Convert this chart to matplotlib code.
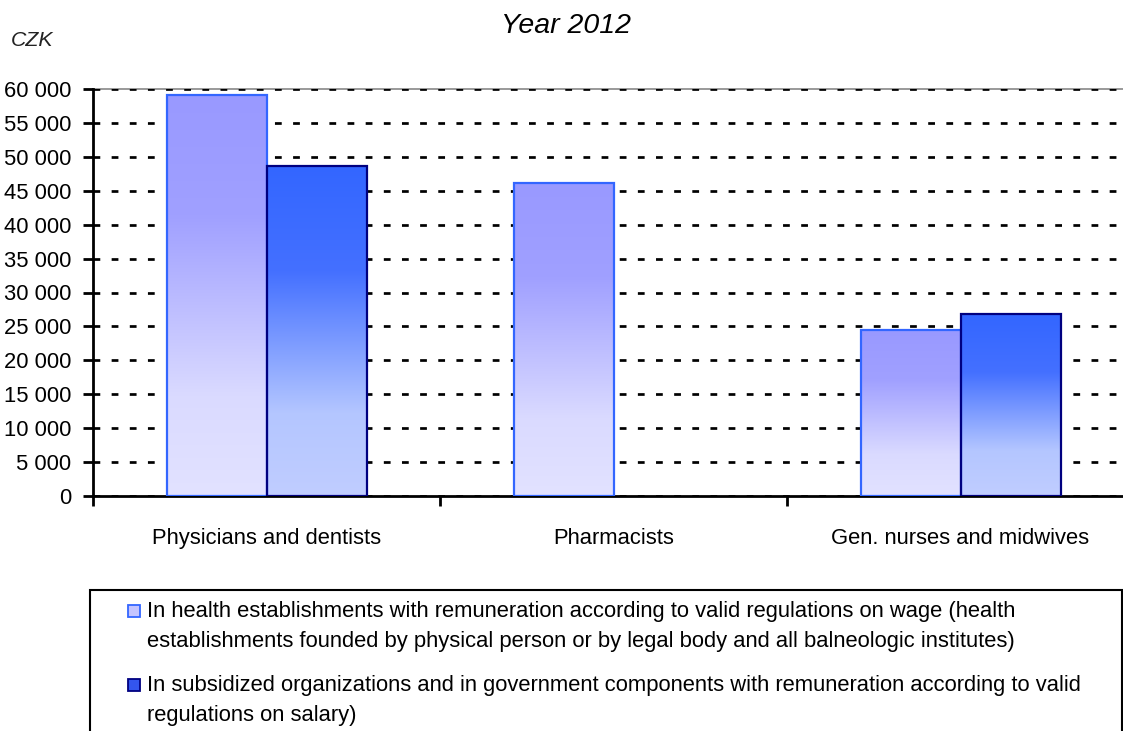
import numpy as np
import matplotlib
matplotlib.use("Agg")
import matplotlib.pyplot as plt
from matplotlib.colors import LinearSegmentedColormap
from matplotlib.patches import Rectangle
from matplotlib.ticker import FixedLocator, FuncFormatter
from matplotlib import font_manager

# Data
categories = ["Physicians and dentists", "Pharmacists", "Gen. nurses and midwives"]
wage_values = [59100, 46100, 24500]
salary_values = [48700, np.nan, 26800]
series_labels = [
    "In health establishments with remuneration according to valid regulations on wage (health\n"
    "establishments founded by physical person or by legal body and all balneologic institutes)",
    "In subsidized organizations and in government components with remuneration according to valid\n"
    "regulations on salary)",
]
y_ticks = [0, 5000, 10000, 15000, 20000, 25000, 30000, 35000, 40000, 45000, 50000, 55000, 60000]

# Fonts (narrow Arial look; fall back to a scaled regular sans)
names = {f.name for f in font_manager.fontManager.ttflist}
if "Liberation Sans Narrow" in names:
    narrow, k = "Liberation Sans Narrow", 1.0
else:
    narrow, k = "Liberation Sans", 0.86
regular = "Liberation Sans"

W, H = 1123, 731
fig = plt.figure(figsize=(W / 100, H / 100), dpi=100)
ax = fig.add_axes([93 / W, 1 - 496 / H, 1 - 93 / W, (496 - 89) / H])

cmap_wage = LinearSegmentedColormap.from_list(
    "wage", [(0, "#E2E2FF"), (0.25, "#DADAFF"), (0.7, "#A0A0FF"), (1, "#9999FF")])
cmap_salary = LinearSegmentedColormap.from_list(
    "salary", [(0, "#C0CDFF"), (0.25, "#B4C6FF"), (0.68, "#4470FF"), (1, "#3366FF")])

centers = np.arange(len(categories)) + 0.5
bw = 100 / 347

bars1 = ax.bar(centers - bw / 2, wage_values, bw, facecolor="none",
               edgecolor="#3366FF", linewidth=1.6, zorder=3)
bars2 = ax.bar(centers + bw / 2, salary_values, bw, facecolor="none",
               edgecolor="#000080", linewidth=1.6, zorder=3)


def fill_gradient(bars, cmap):
    grad = np.linspace(0, 1, 256).reshape(-1, 1)
    for bar in bars:
        x, y = bar.get_x(), bar.get_y()
        w, h = bar.get_width(), bar.get_height()
        if not np.isfinite(h) or h == 0:
            continue
        im = ax.imshow(grad, cmap=cmap, origin="lower", aspect="auto",
                       extent=(x, x + w, y, y + h), zorder=2.5)
        im.set_clip_path(bar)


fill_gradient(bars1, cmap_wage)
fill_gradient(bars2, cmap_salary)

ax.set_xlim(0, 1030 / 347)
ax.set_ylim(0, 60000)

# Axes styling
for side in ["left", "bottom"]:
    ax.spines[side].set_linewidth(2)
    ax.spines[side].set_color("black")
ax.spines["right"].set_visible(False)
ax.spines["top"].set_color("#888888")
ax.spines["top"].set_linewidth(1.2)
ax.spines["top"].set_zorder(0)

ax.yaxis.set_major_locator(FixedLocator(y_ticks))
ax.yaxis.set_major_formatter(FuncFormatter(lambda v, p: f"{int(v):,}".replace(",", " ")))
ax.tick_params(axis="y", length=7.2, width=2, pad=8.6, labelsize=18.4 * k)
for lbl in ax.get_yticklabels():
    lbl.set_family(narrow)

ax.set_xticks(centers)
ax.set_xticklabels(categories, family=narrow, fontsize=18.4 * k)
ax.tick_params(axis="x", which="major", length=0, pad=23)
ax.set_xticks([0, 1, 2], minor=True)
ax.tick_params(axis="x", which="minor", length=7, width=2, direction="out")

ax.set_axisbelow(True)
ax.yaxis.grid(True, color="black", linestyle=(0, (2.5, 4.2)), linewidth=1.95)

# Titles
fig.text(566 / W, 1 - 26 / H, "Year 2012", ha="center", va="center",
         fontsize=20.5, style="italic", family=regular)
fig.text(11 / W, 1 - 40 / H, "CZK", ha="left", va="center",
         fontsize=17.8 * k, style="italic", family=narrow, color="#222222")

# Legend
fig.patches.append(Rectangle((90 / W, -0.05), (1122 - 90) / W, 0.05 + 1 - 590 / H,
                             transform=fig.transFigure, fill=False,
                             edgecolor="black", linewidth=1.5))
swatches = [("#C4C4FF", "#3366FF"), ("#3355EE", "#000080")]
line_y = [611, 685]
for (face, edge), label, yc in zip(swatches, series_labels, line_y):
    fig.patches.append(Rectangle((128 / W, 1 - (yc + 6) / H), 12 / W, 12 / H,
                                 transform=fig.transFigure, facecolor=face,
                                 edgecolor=edge, linewidth=1.3))
    for i, line in enumerate(label.split("\n")):
        fig.text(147 / W, 1 - (yc + 30 * i) / H, line, ha="left", va="center",
                 fontsize=18.4 * k, family=narrow)

fig.savefig("out.png", dpi=100)
